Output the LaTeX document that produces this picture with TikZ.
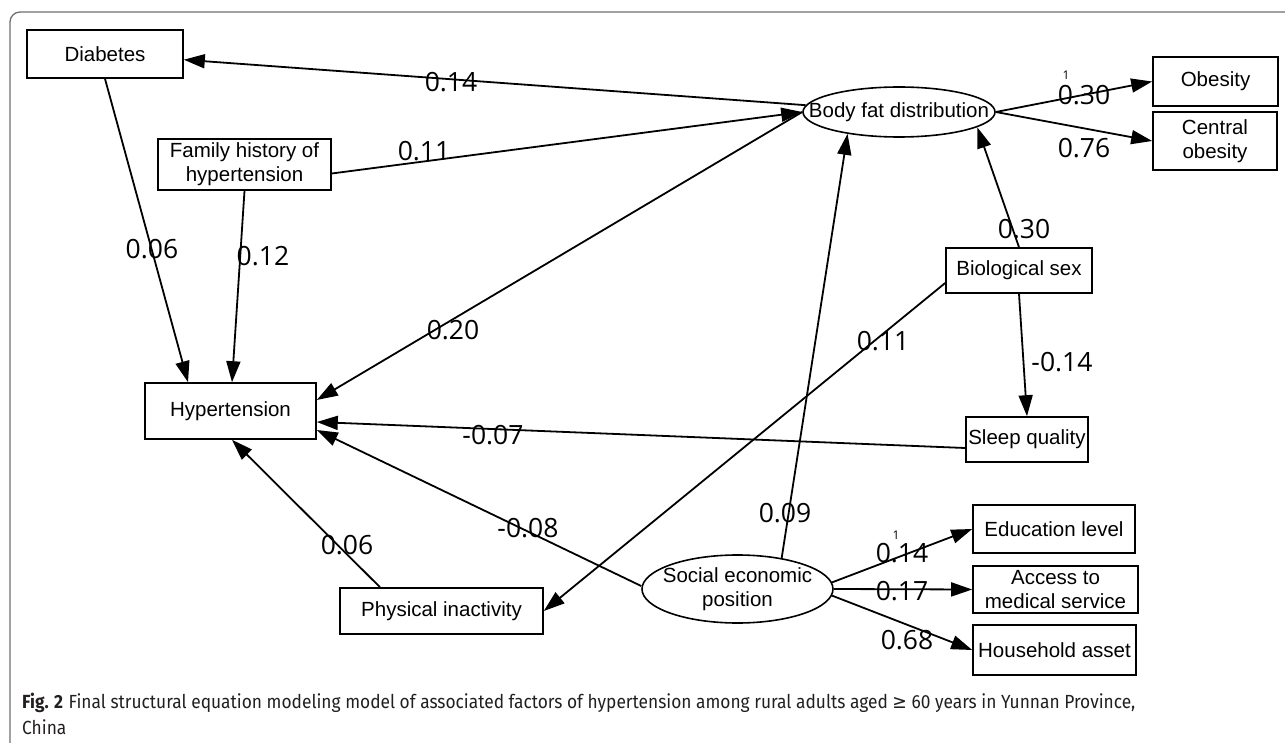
\documentclass[tikz,border=0pt]{standalone}
\usepackage{fontspec}
\usepackage{graphicx}
\setmainfont{Liberation Sans}
\newfontfamily\numfont{Open Sans}
\newfontfamily\capfont{Fira Sans}
\newfontfamily\symfont{DejaVu Sans}
\usetikzlibrary{shapes.geometric,arrows.meta,calc}
\definecolor{framegray}{RGB}{110,110,112}
\definecolor{captext}{RGB}{35,31,32}
\begin{document}
\begin{tikzpicture}[x=1pt,y=1pt,
 box/.style={draw, line width=1.6pt, inner sep=0pt, align=center, font=\fontsize{20.5}{24}\selectfont},
 ell/.style={draw, ellipse, line width=1.6pt, inner sep=0pt},
 txt/.style={inner sep=0pt, align=center, font=\fontsize{20.5}{24}\selectfont},
 edge/.style={line width=1.8pt, -{Triangle[length=21pt,width=14pt]}},
 lab/.style={inner sep=0pt, font=\numfont\fontsize{26.5}{30}\selectfont},
 tiny1/.style={inner sep=0pt, font=\numfont\fontsize{12}{14}\selectfont}]
\useasboundingbox (0,0) rectangle (1285,-743);
\begin{scope}
\clip (0,0) rectangle (1285,-743);
\draw[framegray, line width=1.3pt, rounded corners=10pt] (10,-12) rectangle (1320,-780);
\end{scope}

% nodes
\node[box, minimum width=156pt, minimum height=48pt] (dia) at (105,-54) {Diabetes};
\node[box, minimum width=173pt, minimum height=51pt] (fam) at (244.5,-164.5) {Family history of\\hypertension};
\node[box, minimum width=171pt, minimum height=56pt] (hyp) at (230.5,-411) {Hypertension};
\node[box, minimum width=203pt, minimum height=46pt] (phys) at (441.5,-611) {Physical inactivity};
\node[ell, minimum width=192pt, minimum height=50pt] (body) at (899,-112) {};
\node[txt] (bodyt) at (body) {Body fat distribution};
\node[box, minimum width=125pt, minimum height=49pt] (obes) at (1215.5,-81.5) {Obesity};
\node[box, minimum width=124pt, minimum height=58pt] (cent) at (1215,-141) {Central\\obesity};
\node[box, minimum width=146pt, minimum height=45pt] (bio) at (1019,-270.5) {Biological sex};
\node[box, minimum width=122pt, minimum height=45pt] (sleep) at (1027,-439.5) {Sleep quality};
\node[ell, minimum width=191pt, minimum height=68pt] (ses) at (737.5,-589) {};
\node[txt] (sest) at (ses) {Social economic\\position};
\node[box, minimum width=162pt, minimum height=48pt] (edu) at (1054,-529) {Education level};
\node[box, minimum width=165pt, minimum height=47pt] (acc) at (1055.5,-589.5) {Access to\\medical service};
\node[box, minimum width=163pt, minimum height=50pt] (hh) at (1054.5,-650) {Household asset};

% connectors
\draw[edge] (body) -- (dia);
\draw[edge] ([yshift=-9pt]fam.east) -- (body.west);
\draw[edge] (body.west) -- ([yshift=11pt]hyp.east);
\draw[edge] (dia.south) -- ([xshift=-42.5pt]hyp.north);
\draw[edge] (fam.south) -- ([xshift=1.5pt]hyp.north);
\draw[edge] (body.east) -- (obes.west);
\draw[edge] (body.east) -- (cent.west);
\draw[edge] (bio.north) -- (body.349.4);
\draw[edge] (bio.south) -- (sleep.north);
\draw[edge] ([yshift=-12.5pt]bio.west) -- (phys.east);
\draw[edge] ([yshift=-8.5pt]sleep.west) -- ([yshift=-11pt]hyp.east);
\draw[edge] ([yshift=3pt]ses.west) -- ([yshift=-19pt]hyp.east);
\draw[edge] ([xshift=-61.5pt]phys.north) -- ([xshift=1.5pt]hyp.south);
\draw[edge] (ses.35.6) -- (body.203.7);
\draw[edge] (ses.4) -- (edu.west);
\draw[edge] (ses.east) -- (acc.west);
\draw[edge] (ses.356) -- (hh.west);

% labels
\node[lab] (l1) at (451,-82) {0.14};
\node[lab] (l2) at (424,-151) {0.11};
\node[lab] (l3) at (453,-330) {0.20};
\node[lab] (l4) at (152,-249) {0.06};
\node[lab] (l5) at (263,-256) {0.12};
\node[tiny1] (l6a) at (1066,-75) {1};
\node[lab] (l6) at (1084,-95) {0.30};
\node[lab] (l7) at (1084,-148) {0.76};
\node[lab] (l8) at (1024,-229) {0.30};
\node[lab] (l9) at (1062,-362) {-0.14};
\node[lab] (l10) at (883,-341) {0.11};
\node[lab] (l11) at (493,-435) {-0.07};
\node[lab] (l12) at (528,-528) {-0.08};
\node[lab] (l13) at (347,-545) {0.06};
\node[lab] (l14) at (785,-513) {0.09};
\node[lab] (l15) at (902,-553) {0.14};
\node[tiny1] (l15a) at (896,-535) {1};
\node[lab] (l16) at (902,-591) {0.17};
\node[lab] (l17) at (907,-640) {0.68};

% caption
\node[anchor=north west, inner sep=0pt, text=captext] (cap) at (22,-690)
 {\resizebox{1113pt}{\height}{\capfont\fontsize{19}{26}\selectfont\begin{tabular}{@{}l@{}}\textbf{Fig. 2}\hspace{6pt}Final structural equation modeling model of associated factors of hypertension among rural adults aged {\symfont ≥} 60 years in Yunnan Province,\\China\end{tabular}}};
\end{tikzpicture}
\end{document}
